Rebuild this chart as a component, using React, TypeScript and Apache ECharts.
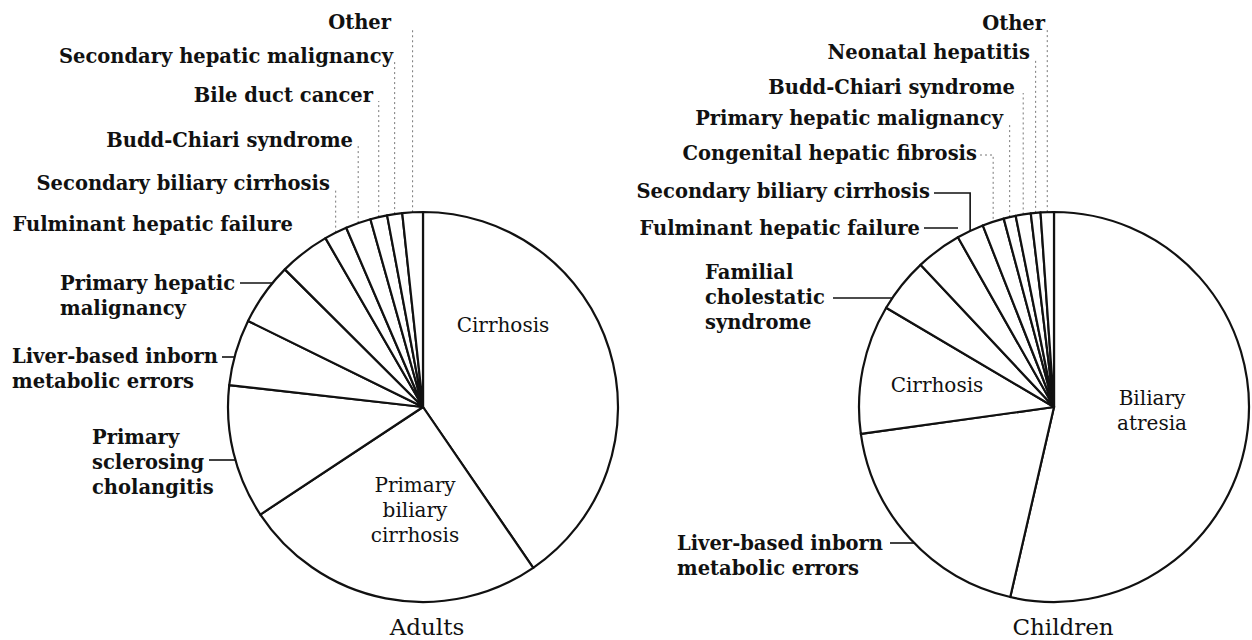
import React, { useEffect, useRef } from "react";
import * as echarts from "echarts";

// ---------- data ----------
const adultCategories = [
  "Cirrhosis",
  "Primary biliary cirrhosis",
  "Primary sclerosing cholangitis",
  "Liver-based inborn metabolic errors",
  "Primary hepatic malignancy",
  "Fulminant hepatic failure",
  "Secondary biliary cirrhosis",
  "Budd-Chiari syndrome",
  "Bile duct cancer",
  "Secondary hepatic malignancy",
  "Other",
];
const adultValues = [40.5, 25.3, 11.1, 5.5, 5.2, 4.2, 1.9, 2.1, 1.4, 1.25, 1.7];
const adultLabelTexts = [
  "Cirrhosis",
  "Primary\nbiliary\ncirrhosis",
  "Primary\nsclerosing\ncholangitis",
  "Liver-based inborn\nmetabolic errors",
  "Primary hepatic\nmalignancy",
  "Fulminant hepatic failure",
  "Secondary biliary cirrhosis",
  "Budd-Chiari syndrome",
  "Bile duct cancer",
  "Secondary hepatic malignancy",
  "Other",
];

const childCategories = [
  "Biliary atresia",
  "Liver-based inborn metabolic errors",
  "Cirrhosis",
  "Familial cholestatic syndrome",
  "Fulminant hepatic failure",
  "Secondary biliary cirrhosis",
  "Congenital hepatic fibrosis",
  "Primary hepatic malignancy",
  "Budd-Chiari syndrome",
  "Neonatal hepatitis",
  "Other",
];
const childValues = [53.6, 19.2, 10.7, 4.5, 3.8, 2.25, 1.8, 1.0, 1.25, 0.8, 1.1];
const childLabelTexts = [
  "Biliary\natresia",
  "Liver-based inborn\nmetabolic errors",
  "Cirrhosis",
  "Familial\ncholestatic\nsyndrome",
  "Fulminant hepatic failure",
  "Secondary biliary cirrhosis",
  "Congenital hepatic fibrosis",
  "Primary hepatic malignancy",
  "Budd-Chiari syndrome",
  "Neonatal hepatitis",
  "Other",
];

const panelTitles = ["Adults", "Children"];

// ---------- layout ----------
const FONT = '"DejaVu Serif", "Liberation Serif", serif';
const R = 195;
const adultCenter: [number, number] = [423, 407];
const childCenter: [number, number] = [1054, 407];

type LineSpec = { kind: "h" | "v" | "hv" | "hfree"; y?: number; x0?: number; x1?: number; dotted?: boolean };
type LabelSpec = { x: number; y: number; align: "left" | "right" | "center"; bold: boolean; line?: LineSpec };

const adultLayout: LabelSpec[] = [
  { x: 503, y: 325, align: "center", bold: false },
  { x: 415, y: 510, align: "center", bold: false },
  { x: 92, y: 462, align: "left", bold: true, line: { kind: "h", y: 460, x0: 209 } },
  { x: 12, y: 369, align: "left", bold: true, line: { kind: "h", y: 357, x0: 222 } },
  { x: 60, y: 296, align: "left", bold: true, line: { kind: "h", y: 283, x0: 240 } },
  { x: 293, y: 224, align: "right", bold: true },
  { x: 330, y: 183, align: "right", bold: true, line: { kind: "v", dotted: true } },
  { x: 353, y: 140, align: "right", bold: true, line: { kind: "v", dotted: true } },
  { x: 373, y: 95, align: "right", bold: true, line: { kind: "v", dotted: true } },
  { x: 393, y: 56, align: "right", bold: true, line: { kind: "v", dotted: true } },
  { x: 391, y: 22, align: "right", bold: true, line: { kind: "v", dotted: true } },
];

const childLayout: LabelSpec[] = [
  { x: 1152, y: 410, align: "center", bold: false },
  { x: 677, y: 556, align: "left", bold: true, line: { kind: "h", y: 543, x0: 890 } },
  { x: 937, y: 385, align: "center", bold: false },
  { x: 705, y: 297, align: "left", bold: true, line: { kind: "h", y: 298, x0: 833 } },
  { x: 920, y: 228, align: "right", bold: true, line: { kind: "hfree", y: 228, x0: 924, x1: 958 } },
  { x: 930, y: 191, align: "right", bold: true, line: { kind: "hv", y: 193, x0: 934 } },
  { x: 977, y: 153, align: "right", bold: true, line: { kind: "hv", y: 155, x0: 980, dotted: true } },
  { x: 1003, y: 118, align: "right", bold: true, line: { kind: "v", dotted: true } },
  { x: 1015, y: 87, align: "right", bold: true, line: { kind: "v", dotted: true } },
  { x: 1030, y: 52, align: "right", bold: true, line: { kind: "v", dotted: true } },
  { x: 1045, y: 23, align: "right", bold: true, line: { kind: "v", dotted: true } },
];

function midPoints(values: number[], center: [number, number]) {
  const total = values.reduce((a, b) => a + b, 0);
  let acc = 0;
  return values.map((v) => {
    const mid = ((acc + v / 2) / total) * Math.PI * 2;
    acc += v;
    return [center[0] + R * Math.sin(mid), center[1] - R * Math.cos(mid)];
  });
}

function buildSeries(
  names: string[],
  values: number[],
  texts: string[],
  layout: LabelSpec[],
  center: [number, number]
) {
  const mids = midPoints(values, center);
  const arcLeftX = (y: number) => center[0] - Math.sqrt(Math.max(0, R * R - (y - center[1]) ** 2));
  const linePoints = (i: number) => {
    const spec = layout[i].line;
    if (!spec) return undefined;
    const p = mids[i];
    if (spec.kind === "h") {
      const ax = arcLeftX(spec.y!);
      return [[spec.x0!, spec.y!], [(spec.x0! + ax) / 2, spec.y!], [ax, spec.y!]];
    }
    if (spec.kind === "hfree") {
      return [[spec.x0!, spec.y!], [(spec.x0! + spec.x1!) / 2, spec.y!], [spec.x1!, spec.y!]];
    }
    if (spec.kind === "hv") {
      return [[spec.x0!, spec.y!], [p[0], spec.y!], [p[0], p[1]]];
    }
    const top = layout[i].y + 6;
    return [[p[0], p[1]], [p[0], (p[1] + top) / 2], [p[0], top]];
  };
  const data = names.map((n, i) => {
    const spec = layout[i];
    const dotted = spec.line && spec.line.dotted;
    return {
      name: n,
      value: values[i],
      label: {
        formatter: texts[i],
        fontWeight: spec.bold ? "bold" : "normal",
        fontSize: spec.bold ? 19.5 : 20,
      },
      labelLine: {
        show: !!spec.line,
        lineStyle: dotted
          ? { color: "#777", width: 1, type: [2, 3] }
          : { color: "#111", width: 1.6, type: "solid" },
      },
    };
  });
  return {
    type: "pie",
    center,
    radius: R,
    startAngle: 90,
    clockwise: true,
    avoidLabelOverlap: false,
    silent: true,
    itemStyle: { color: "#ffffff", borderColor: "#111111", borderWidth: 2.2 },
    label: {
      show: true,
      position: "outside",
      color: "#111",
      fontFamily: FONT,
      fontSize: 19.5,
      lineHeight: 25,
    },
    labelLine: { show: true, length: 10, length2: 10, smooth: false },
    labelLayout: (params: any) => {
      const i = params.dataIndex;
      const spec = layout[i];
      const out: any = { x: spec.x, y: spec.y, align: spec.align, verticalAlign: "middle" };
      const pts = linePoints(i);
      if (pts) out.labelLinePoints = pts;
      return out;
    },
    data,
  };
}

export default function App() {
  const ref = useRef<HTMLDivElement>(null);
  useEffect(() => {
    if (!ref.current) return;
    const chart = echarts.init(ref.current, undefined, { renderer: "svg" });
    const titleStyle = { fontFamily: FONT, fontSize: 23, fontWeight: "normal", color: "#111" };
    chart.setOption({
      animation: false,
      backgroundColor: "#ffffff",
      title: [
        { text: panelTitles[0], left: 427, top: 615, textAlign: "center", padding: 0, textStyle: titleStyle },
        { text: panelTitles[1], left: 1063, top: 615, textAlign: "center", padding: 0, textStyle: titleStyle },
      ],
      series: [
        buildSeries(adultCategories, adultValues, adultLabelTexts, adultLayout, adultCenter),
        buildSeries(childCategories, childValues, childLabelTexts, childLayout, childCenter),
      ],
    });
    return () => chart.dispose();
  }, []);
  return (
    <div
      ref={ref}
      style={{ position: "fixed", left: 0, top: 0, width: 1252, height: 640, background: "#fff" }}
    />
  );
}
